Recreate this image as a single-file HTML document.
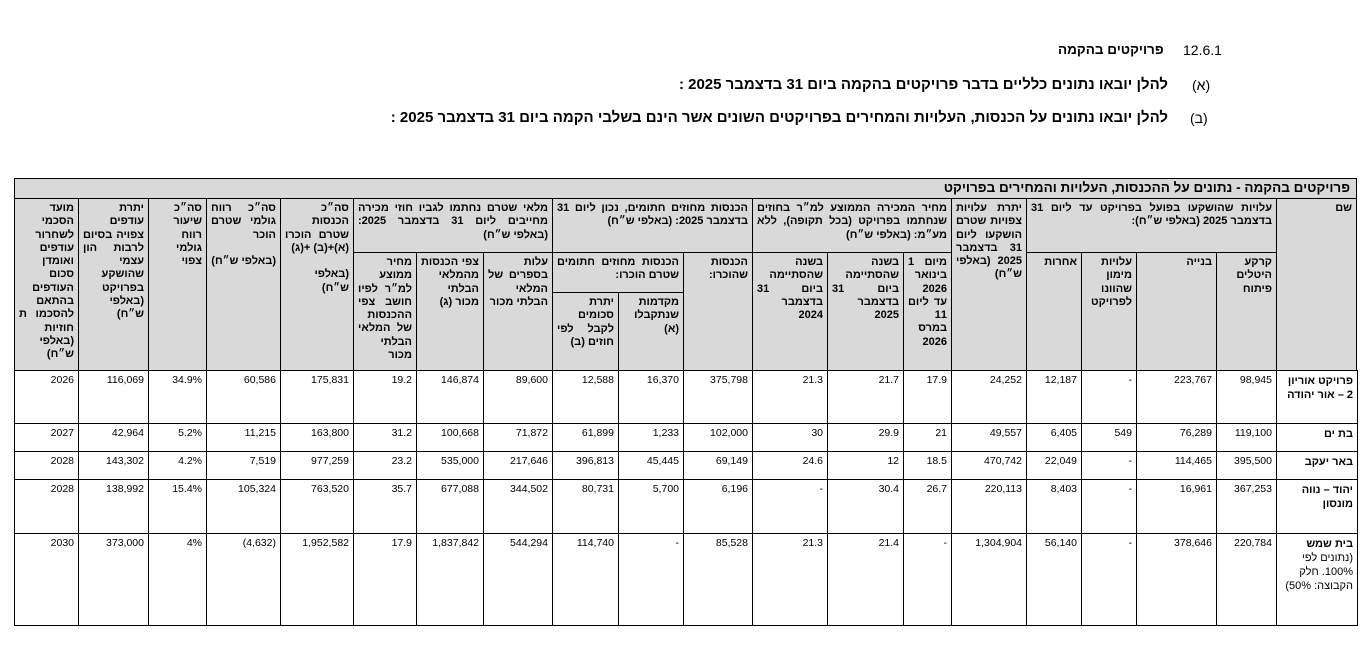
<!DOCTYPE html>
<html><head><meta charset="utf-8">
<style>
body{margin:0;width:1364px;height:656px;background:#fff;position:relative;font-family:"Liberation Sans","DejaVu Sans",sans-serif;color:#000;overflow:hidden}
.t{position:absolute;white-space:nowrap;direction:rtl}
.c{position:absolute;border:1px solid #000;box-sizing:border-box;direction:rtl;overflow:hidden}
.h{background:#d9d9d9;font-weight:bold;font-size:11px;line-height:13.3px;padding:3px 4px;text-align:justify;text-align-last:right}
.d{font-size:10.5px;padding:3px 4px;text-align:right;line-height:13px}
.n{font-size:11px;font-weight:bold;padding:3px 4px;text-align:right;line-height:14px}
</style></head><body>
<div class="t" style="left:1183px;top:42px;font-size:14px;direction:ltr">12.6.1</div>
<div class="t" style="left:1058px;top:42px;font-size:13.5px;font-weight:bold">פרויקטים בהקמה</div>
<div class="t" style="left:1192px;top:77px;font-size:14px">(א)</div>
<div class="t" style="right:196px;top:76px;font-size:15px;font-weight:bold">להלן יובאו נתונים כלליים בדבר פרויקטים בהקמה ביום 31 בדצמבר 2025 :</div>
<div class="t" style="left:1190px;top:110px;font-size:14px">(ב)</div>
<div class="t" style="right:196px;top:109px;font-size:15px;font-weight:bold">להלן יובאו נתונים על הכנסות, העלויות והמחירים בפרויקטים השונים אשר הינם בשלבי הקמה ביום 31 בדצמבר 2025 :</div>

<div class="c h" style="left:14px;top:178px;width:1343px;height:21px;font-size:13.5px;line-height:15px;padding:1px 6px">פרויקטים בהקמה - נתונים על ההכנסות, העלויות והמחירים בפרויקט</div>

<div class="c h" style="left:1276px;top:198px;width:81px;height:173px">שם</div>
<div class="c h" style="left:1026px;top:198px;width:251px;height:55px">עלויות שהושקעו בפועל בפרויקט עד ליום 31 בדצמבר 2025 (באלפי ש״ח):</div>
<div class="c h" style="left:1216px;top:252px;width:61px;height:119px">קרקע היטלים פיתוח</div>
<div class="c h" style="left:1136px;top:252px;width:81px;height:119px">בנייה</div>
<div class="c h" style="left:1081px;top:252px;width:56px;height:119px">עלויות מימון שהוונו לפרויקט</div>
<div class="c h" style="left:1026px;top:252px;width:56px;height:119px">אחרות</div>
<div class="c h" style="left:951px;top:198px;width:76px;height:173px">יתרת עלויות צפויות שטרם הושקעו ליום 31 בדצמבר 2025 (באלפי ש״ח)</div>
<div class="c h" style="left:752px;top:198px;width:200px;height:55px">מחיר המכירה הממוצע למ״ר בחוזים שנחתמו בפרויקט (בכל תקופה), ללא מע״מ: (באלפי ש״ח)</div>
<div class="c h" style="left:903px;top:252px;width:49px;height:119px">מיום 1 בינואר 2026 עד ליום 11 במרס 2026</div>
<div class="c h" style="left:827px;top:252px;width:77px;height:119px">בשנה שהסתיימה ביום 31 בדצמבר 2025</div>
<div class="c h" style="left:752px;top:252px;width:76px;height:119px">בשנה שהסתיימה ביום 31 בדצמבר 2024</div>
<div class="c h" style="left:552px;top:198px;width:201px;height:55px">הכנסות מחוזים חתומים, נכון ליום 31 בדצמבר 2025: (באלפי ש״ח)</div>
<div class="c h" style="left:683px;top:252px;width:70px;height:119px">הכנסות שהוכרו:</div>
<div class="c h" style="left:552px;top:252px;width:132px;height:41px">הכנסות מחוזים חתומים שטרם הוכרו:</div>
<div class="c h" style="left:618px;top:292px;width:66px;height:79px">מקדמות שנתקבלו (א)</div>
<div class="c h" style="left:552px;top:292px;width:67px;height:79px">יתרת סכומים לקבל לפי חוזים (ב)</div>
<div class="c h" style="left:353px;top:198px;width:200px;height:55px">מלאי שטרם נחתמו לגביו חוזי מכירה מחייבים ליום 31 בדצמבר 2025: (באלפי ש״ח)</div>
<div class="c h" style="left:483px;top:252px;width:70px;height:119px">עלות בספרים של המלאי הבלתי מכור</div>
<div class="c h" style="left:416px;top:252px;width:68px;height:119px">צפי הכנסות מהמלאי הבלתי מכור (ג)</div>
<div class="c h" style="left:353px;top:252px;width:64px;height:119px">מחיר ממוצע למ״ר לפיו חושב צפי ההכנסות של המלאי הבלתי מכור</div>
<div class="c h" style="left:280px;top:198px;width:74px;height:173px">סה״כ הכנסות שטרם הוכרו (א)+(ב) +(ג)<br><br>(באלפי ש״ח)</div>
<div class="c h" style="left:206px;top:198px;width:75px;height:173px">סה״כ רווח גולמי שטרם הוכר<br><br>(באלפי ש״ח)</div>
<div class="c h" style="left:148px;top:198px;width:59px;height:173px">סה״כ שיעור רווח גולמי צפוי</div>
<div class="c h" style="left:78px;top:198px;width:71px;height:173px">יתרת עודפים צפויה בסיום לרבות הון עצמי שהושקע בפרויקט (באלפי ש״ח)</div>
<div class="c h" style="left:14px;top:198px;width:65px;height:173px">מועד הסכמי לשחרור עודפים ואומדן סכום העודפים בהתאם להסכמו ת חוזיות (באלפי ש״ח)</div>

<div id="rows"></div>
<script>
var X=[14,78,148,206,280,353,416,483,552,618,683,752,827,903,951,1026,1081,1136,1216,1276,1357];
var Y=[370,423,451,479,533,625];
var D=[
["2026","116,069","34.9%","60,586","175,831","19.2","146,874","89,600","12,588","16,370","375,798","21.3","21.7","17.9","24,252","12,187","-","223,767","98,945","<b>פרויקט אוריון 2 – אור יהודה</b>"],
["2027","42,964","5.2%","11,215","163,800","31.2","100,668","71,872","61,899","1,233","102,000","30","29.9","21","49,557","6,405","549","76,289","119,100","<b>בת ים</b>"],
["2028","143,302","4.2%","7,519","977,259","23.2","535,000","217,646","396,813","45,445","69,149","24.6","12","18.5","470,742","22,049","-","114,465","395,500","<b>באר יעקב</b>"],
["2028","138,992","15.4%","105,324","763,520","35.7","677,088","344,502","80,731","5,700","6,196","-","30.4","26.7","220,113","8,403","-","16,961","367,253","<b>יהוד – נווה מונסון</b>"],
["2030","373,000","4%","(4,632)","1,952,582","17.9","1,837,842","544,294","114,740","-","85,528","21.3","21.4","-","1,304,904","56,140","-","378,646","220,784","<b>בית שמש</b> <span style='font-weight:normal'>(נתונים לפי 100%. חלק הקבוצה: 50%)</span>"]];
var h="";
for(var r=0;r<5;r++)for(var c=0;c<20;c++){
var cls=c==19?"c n":"c d";
var txt=D[r][c];
if(c<19)txt='<span style="direction:ltr;unicode-bidi:embed">'+txt+'</span>';
h+='<div class="'+cls+'" style="left:'+X[c]+'px;top:'+Y[r]+'px;width:'+(X[c+1]-X[c]+1)+'px;height:'+(Y[r+1]-Y[r]+1)+'px">'+txt+'</div>';}
document.getElementById("rows").innerHTML=h;
</script>
</body></html>
